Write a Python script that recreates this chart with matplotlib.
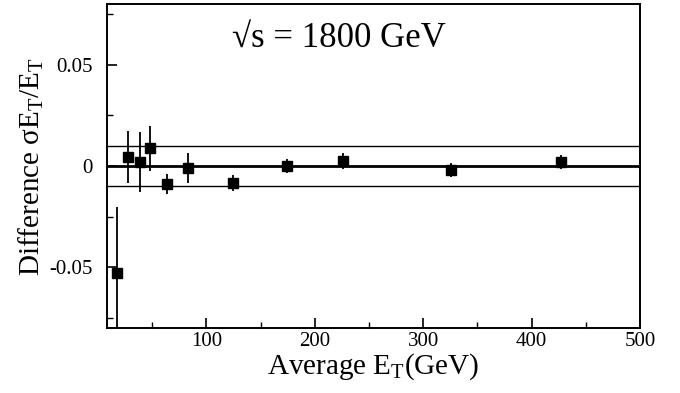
import matplotlib
matplotlib.use('Agg')
import matplotlib.pyplot as plt
from matplotlib.ticker import MultipleLocator, FuncFormatter

# average E_T (GeV), difference in sigma(E_T)/E_T, and its error
et_avg = [17.6, 28.0, 38.8, 48.0, 63.4, 83.1, 124.7, 174.0, 225.6, 326.0, 427.0]
diff = [-0.053, 0.0044, 0.0020, 0.0087, -0.0088, -0.0008, -0.0085, 0.0000, 0.0025, -0.0020, 0.0020]
diff_err = [0.033, 0.0127, 0.0147, 0.0112, 0.0050, 0.0074, 0.0040, 0.0034, 0.0039, 0.0035, 0.0034]

band = [-0.01, 0.01]

plt.rcParams['font.family'] = ['Liberation Serif', 'DejaVu Serif']
plt.rcParams['mathtext.fontset'] = 'custom'
plt.rcParams['mathtext.rm'] = 'Liberation Serif'
plt.rcParams['mathtext.it'] = 'Liberation Serif:italic'

fig = plt.figure(figsize=(6.8, 3.93), dpi=100)
ax = fig.add_axes([0.157, 0.165, 0.784, 0.825])

ax.axhline(0.0, color='black', linewidth=2.0, zorder=1)
for b in band:
    ax.axhline(b, color='black', linewidth=1.0, zorder=1)

ax.errorbar(et_avg, diff, yerr=diff_err, fmt='s', color='black',
            markersize=6.5, elinewidth=1.3, capsize=0, zorder=3)

ax.set_xlim(8, 500)
ax.set_ylim(-0.08, 0.08)

ax.xaxis.set_major_locator(MultipleLocator(100))
ax.xaxis.set_minor_locator(MultipleLocator(50))
ax.yaxis.set_major_locator(MultipleLocator(0.05))
ax.yaxis.set_minor_locator(MultipleLocator(0.025))
ax.yaxis.set_major_formatter(FuncFormatter(lambda v, p: '0' if abs(v) < 1e-9 else f'{v:g}'))

ax.tick_params(which='both', direction='in', top=False, right=False, labelsize=15)
ax.tick_params(which='major', length=7, width=1.2)
ax.tick_params(which='minor', length=4, width=1.0)
ax.tick_params(axis='x', pad=3)
ax.tick_params(axis='y', pad=10)
for s in ax.spines.values():
    s.set_linewidth(1.4)

ax.set_xlabel(r'Average E$_\mathrm{T}$(GeV)', fontsize=21, labelpad=0)
ax.set_ylabel(r'Difference σE$_\mathrm{T}$/E$_\mathrm{T}$', fontsize=21)
ax.yaxis.set_label_coords(-0.114, 0.5)

ax.text(0.435, 0.895, '√s = 1800 GeV', transform=ax.transAxes,
        fontsize=25, ha='center', va='center')

fig.savefig('out.png', dpi=100)
